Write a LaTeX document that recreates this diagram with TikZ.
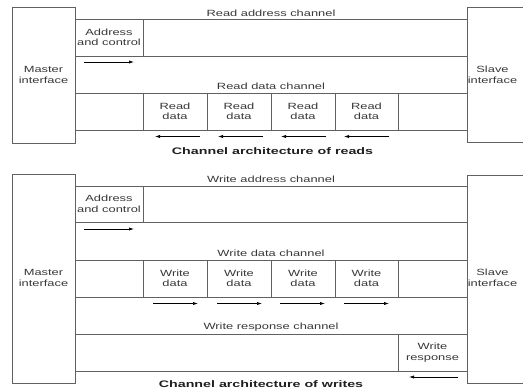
\documentclass[tikz,border=0pt]{standalone}
\usepackage{fontspec}
\usetikzlibrary{arrows.meta}
\newfontfamily\lblfnt[FakeStretch=1.43]{Liberation Sans}
\newfontfamily\capfnt[FakeStretch=1.5]{Liberation Sans}
\definecolor{linegray}{gray}{0.38}
\definecolor{textgray}{gray}{0.22}
\begin{document}
\begin{tikzpicture}[x=1pt,y=-1pt,
  frame/.style={draw=linegray, line width=0.9pt},
  lbl/.style={font=\lblfnt\fontsize{9}{10.5}\selectfont, text=textgray, align=center, inner sep=0pt},
  chan/.style={lbl, anchor=base},
  caption/.style={font=\capfnt\bfseries\fontsize{9.5}{11}\selectfont, text=black!88, inner sep=0pt, anchor=base},
  flow/.style={draw=black, line width=0.7pt, -{Latex[length=5pt,width=3.2pt]}},
]
\useasboundingbox (0,0) rectangle (523,389);
\clip (0,0) rectangle (523,389);

% ---------------- reads ----------------
\draw[frame] (12,7) rectangle (75,143);
\node[lbl] (mr) at (43.5,75) {Master\\interface};
\draw[frame] (467,7) rectangle (560,142);
\node[lbl] (sr) at (492.5,75) {Slave\\interface};

\node[chan] (rac) at (271,16) {Read address channel};
\draw[frame] (75,19) -- (467,19);
\draw[frame] (143,19) -- (143,56);
\node[lbl] (rad) at (109,37.5) {Address\\and control};
\draw[frame] (75,56) -- (467,56);
\coordinate (rat) at (84,62);
\coordinate (rah) at (134,62);
\draw[flow] (rat) -- (rah);

\node[chan] (rdc) at (271,89) {Read data channel};
\draw[frame] (75,93) -- (467,93);
\draw[frame] (75,130) -- (467,130);
\foreach \x in {143,207,271,335,398} \draw[frame] (\x,93) -- (\x,130);
\foreach \i/\x in {1/175,2/239,3/303,4/366.5}
  \node[lbl] (rd\i) at (\x,111.5) {Read\\data};
\foreach \i/\x in {1/155,2/218,3/281,4/344} {
  \coordinate (rdh\i) at (\x,136.5);
  \coordinate (rdt\i) at (\x+45,136.5);
  \draw[flow] (rdt\i) -- (rdh\i);
}
\node[caption] (capr) at (272.5,154) {Channel architecture of reads};

% ---------------- writes ----------------
\draw[frame] (12,174) rectangle (75,383);
\node[lbl] (mw) at (43.5,278) {Master\\interface};
\draw[frame] (467,175) rectangle (560,383);
\node[lbl] (sw) at (492.5,278) {Slave\\interface};

\node[chan] (wac) at (271,182) {Write address channel};
\draw[frame] (75,186) -- (467,186);
\draw[frame] (143,186) -- (143,222);
\node[lbl] (wad) at (109,204) {Address\\and control};
\draw[frame] (75,222) -- (467,222);
\coordinate (wat) at (84,229);
\coordinate (wah) at (134,229);
\draw[flow] (wat) -- (wah);

\node[chan] (wdc) at (271,256) {Write data channel};
\draw[frame] (75,260) -- (467,260);
\draw[frame] (75,297) -- (467,297);
\foreach \x in {143,207,271,335,398} \draw[frame] (\x,260) -- (\x,297);
\foreach \i/\x in {1/175,2/239,3/303,4/366.5}
  \node[lbl] (wd\i) at (\x,278.5) {Write\\data};
\foreach \i/\x in {1/153,2/217,3/280,4/344} {
  \coordinate (wdt\i) at (\x,303.5);
  \coordinate (wdh\i) at (\x+45,303.5);
  \draw[flow] (wdt\i) -- (wdh\i);
}

\node[chan] (wrc) at (271,329) {Write response channel};
\draw[frame] (75,334) -- (467,334);
\draw[frame] (398,334) -- (398,371);
\node[lbl] (wrs) at (432.5,352.5) {Write\\response};
\draw[frame] (75,371) -- (467,371);
\coordinate (wrt) at (458,377);
\coordinate (wrh) at (409,377);
\draw[flow] (wrt) -- (wrh);

\node[caption] (capw) at (261,387) {Channel architecture of writes};
\end{tikzpicture}
\end{document}
